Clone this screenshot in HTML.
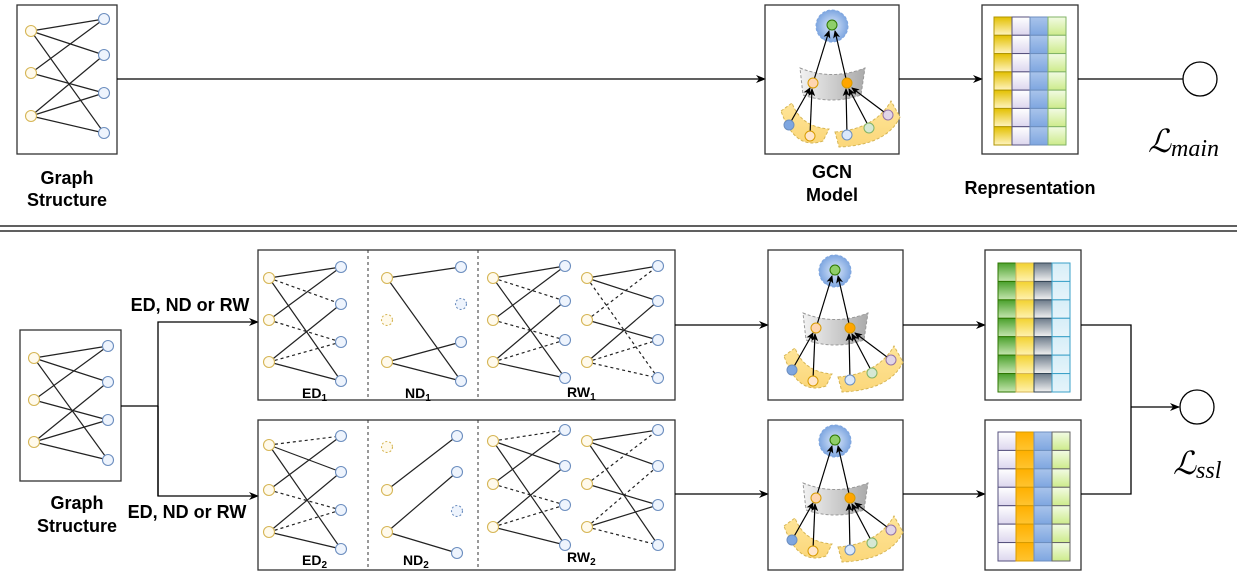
<!DOCTYPE html>
<html><head><meta charset="utf-8"><style>
html,body{margin:0;padding:0;background:#fff;}
svg{display:block;}
text{font-family:"Liberation Sans",sans-serif;}
</style></head><body>
<svg id="s" width="1242" height="588" viewBox="0 0 1242 588" xmlns="http://www.w3.org/2000/svg">
<defs>
<marker id="ar" markerWidth="10" markerHeight="8" refX="9" refY="4" orient="auto" markerUnits="userSpaceOnUse"><path d="M0,0 L10,4 L0,8 L3,4 Z" fill="#000"/></marker>
<marker id="as" markerWidth="8" markerHeight="7" refX="7" refY="3.5" orient="auto" markerUnits="userSpaceOnUse"><path d="M0,0 L8,3.5 L0,7 L2,3.5 Z" fill="#000"/></marker>
<radialGradient id="halo"><stop offset="0" stop-color="#dbe8fb"/><stop offset="1" stop-color="#7ea6e0"/></radialGradient>
<linearGradient id="band" x1="0" x2="1"><stop offset="0" stop-color="#f2f2f2"/><stop offset="1" stop-color="#aaa"/></linearGradient>
<linearGradient id="pet" x1="0" y1="0" x2="0" y2="1"><stop offset="0" stop-color="#ffe599"/><stop offset="1" stop-color="#fbd77a"/></linearGradient>
<linearGradient id="gY" x1="0" y1="0" x2="0" y2="1"><stop offset="0" stop-color="#e3c000"/><stop offset="1" stop-color="#fff4c0"/></linearGradient>
<linearGradient id="gL" x1="0" y1="0" x2="0" y2="1"><stop offset="0" stop-color="#fff"/><stop offset="1" stop-color="#dcd6ee"/></linearGradient>
<linearGradient id="gB" x1="0" y1="0" x2="0" y2="1"><stop offset="0" stop-color="#a9c4eb"/><stop offset="1" stop-color="#7ea6e0"/></linearGradient>
<linearGradient id="gG" x1="0" y1="0" x2="0" y2="1"><stop offset="0" stop-color="#f2fbe4"/><stop offset="1" stop-color="#cdeb8b"/></linearGradient>
<linearGradient id="gDG" x1="0" y1="0" x2="0" y2="1"><stop offset="0" stop-color="#4aa02c"/><stop offset="1" stop-color="#c6e6b0"/></linearGradient>
<linearGradient id="gY2" x1="0" y1="0" x2="0" y2="1"><stop offset="0" stop-color="#f2d230"/><stop offset="1" stop-color="#fff2b0"/></linearGradient>
<linearGradient id="gGr" x1="0" y1="0" x2="0" y2="1"><stop offset="0" stop-color="#6d7b8a"/><stop offset="1" stop-color="#f2f2f2"/></linearGradient>
<linearGradient id="gC" x1="0" y1="0" x2="0" y2="1"><stop offset="0" stop-color="#d6eef8"/><stop offset="1" stop-color="#e6f4fa"/></linearGradient>
<linearGradient id="gO" x1="0" y1="0" x2="0" y2="1"><stop offset="0" stop-color="#ffb000"/><stop offset="1" stop-color="#ffc430"/></linearGradient>
<g id="gcn">
<circle cx="67" cy="21" r="16" fill="url(#halo)" stroke="#7ea6e0" stroke-dasharray="3,2"/>
<path d="M35,63 Q67,76 100,63 L96,90 Q67,100 38,90 Z" fill="url(#band)" stroke="#999" stroke-dasharray="3,2"/>
<path d="M16,106 L27,98 Q36,122 64,124 L58,136 Q30,146 16,106 Z" fill="url(#pet)" stroke="#d6b656" stroke-dasharray="3,2"/>
<path d="M70,127 Q110,124 126,96 L135,112 Q122,140 74,142 Z" fill="url(#pet)" stroke="#d6b656" stroke-dasharray="3,2"/>
<g stroke="#000" stroke-width="1.2" fill="none">
<line x1="48" y1="78" x2="64" y2="26" marker-end="url(#as)"/>
<line x1="82" y1="78" x2="70" y2="26" marker-end="url(#as)"/>
<line x1="24" y1="120" x2="45" y2="83" marker-end="url(#as)"/>
<line x1="45" y1="130" x2="47" y2="84" marker-end="url(#as)"/>
<line x1="82" y1="130" x2="81" y2="84" marker-end="url(#as)"/>
<line x1="104" y1="122" x2="84" y2="84" marker-end="url(#as)"/>
<line x1="123" y1="110" x2="87" y2="83" marker-end="url(#as)"/>
</g>
<circle cx="67" cy="20" r="5" fill="#8fcf6a" stroke="#2d7600"/>
<circle cx="48" cy="78" r="5" fill="#ffd5b0" stroke="#d79b00"/>
<circle cx="82" cy="78" r="5" fill="#ffa500" stroke="#d79b00"/>
<circle cx="24" cy="120" r="5" fill="#7ea6e0" stroke="#6c8ebf"/>
<circle cx="45" cy="131" r="5" fill="#ffe6cc" stroke="#d79b00"/>
<circle cx="82" cy="130" r="5" fill="#dae8fc" stroke="#6c8ebf"/>
<circle cx="104" cy="123" r="5" fill="#d5e8d4" stroke="#82b366"/>
<circle cx="123" cy="110" r="5" fill="#e1d5e7" stroke="#9673a6"/>
</g>
</defs>
<g id="root" stroke-linecap="butt"></g>
<rect x="17" y="5" width="100" height="149" fill="none" stroke="#333" stroke-width="1.3"/>
<text x="67" y="184" font-size="18" font-weight="bold" text-anchor="middle">Graph</text>
<text x="67" y="206" font-size="18" font-weight="bold" text-anchor="middle">Structure</text>
<line x1="117" y1="79" x2="765" y2="79" stroke="#000" stroke-width="1.3" marker-end="url(#ar)"/>
<rect x="765" y="5" width="134" height="149" fill="none" stroke="#333" stroke-width="1.3"/>
<use href="#gcn" x="765" y="5"/>
<text x="832" y="178" font-size="18" font-weight="bold" text-anchor="middle">GCN</text>
<text x="832" y="201" font-size="18" font-weight="bold" text-anchor="middle">Model</text>
<line x1="899" y1="79" x2="982" y2="79" stroke="#000" stroke-width="1.3" marker-end="url(#ar)"/>
<rect x="982" y="5" width="96" height="149" fill="none" stroke="#333" stroke-width="1.3"/>
<text x="1030" y="194" font-size="18" font-weight="bold" text-anchor="middle">Representation</text>
<line x1="1078" y1="79" x2="1183" y2="79" stroke="#000" stroke-width="1.3"/>
<circle cx="1200" cy="79" r="17" fill="#fff" stroke="#000" stroke-width="1.3"/>
<text x="1148" y="152" font-size="32" font-family="Liberation Serif" font-style="italic">ℒ<tspan font-size="24" font-family="Liberation Serif" dy="4">main</tspan></text>
<line x1="0" y1="226" x2="1237" y2="226" stroke="#000" stroke-width="1.2"/>
<line x1="0" y1="231" x2="1237" y2="231" stroke="#000" stroke-width="1.2"/>
<rect x="20" y="330" width="101" height="151" fill="none" stroke="#333" stroke-width="1.3"/>
<text x="77" y="509" font-size="18" font-weight="bold" text-anchor="middle">Graph</text>
<text x="77" y="532" font-size="18" font-weight="bold" text-anchor="middle">Structure</text>
<polyline points="121,406 158,406" fill="none" stroke="#000" stroke-width="1.3"/>
<polyline points="158,496 158,322 258,322" fill="none" stroke="#000" stroke-width="1.3" marker-end="url(#ar)"/>
<polyline points="158,406 158,496 258,496" fill="none" stroke="#000" stroke-width="1.3" marker-end="url(#ar)"/>
<text x="190" y="311" font-size="18" font-weight="bold" text-anchor="middle">ED, ND or RW</text>
<text x="187" y="518" font-size="18" font-weight="bold" text-anchor="middle">ED, ND or RW</text>
<rect x="258" y="250" width="417" height="150" fill="none" stroke="#333" stroke-width="1.3"/>
<rect x="258" y="420" width="417" height="150" fill="none" stroke="#333" stroke-width="1.3"/>
<g stroke="#333" stroke-dasharray="3,3"><line x1="368" y1="250" x2="368" y2="400"/><line x1="478" y1="250" x2="478" y2="400"/><line x1="368" y1="420" x2="368" y2="570"/><line x1="478" y1="420" x2="478" y2="570"/></g>
<text x="302" y="398" font-size="14" font-weight="bold">ED<tspan font-size="10" dy="3">1</tspan></text>
<text x="405" y="398" font-size="14" font-weight="bold">ND<tspan font-size="10" dy="3">1</tspan></text>
<text x="567" y="397" font-size="14" font-weight="bold">RW<tspan font-size="10" dy="3">1</tspan></text>
<text x="302" y="565" font-size="14" font-weight="bold">ED<tspan font-size="10" dy="3">2</tspan></text>
<text x="403" y="565" font-size="14" font-weight="bold">ND<tspan font-size="10" dy="3">2</tspan></text>
<text x="567" y="562" font-size="14" font-weight="bold">RW<tspan font-size="10" dy="3">2</tspan></text>
<line x1="675" y1="325" x2="768" y2="325" stroke="#000" stroke-width="1.3" marker-end="url(#ar)"/>
<line x1="675" y1="494" x2="768" y2="494" stroke="#000" stroke-width="1.3" marker-end="url(#ar)"/>
<rect x="768" y="250" width="135" height="150" fill="none" stroke="#333" stroke-width="1.3"/>
<rect x="768" y="420" width="135" height="150" fill="none" stroke="#333" stroke-width="1.3"/>
<use href="#gcn" x="768" y="250"/>
<use href="#gcn" x="768" y="420"/>
<line x1="903" y1="325" x2="985" y2="325" stroke="#000" stroke-width="1.3" marker-end="url(#ar)"/>
<line x1="903" y1="494" x2="985" y2="494" stroke="#000" stroke-width="1.3" marker-end="url(#ar)"/>
<rect x="985" y="250" width="96" height="150" fill="none" stroke="#333" stroke-width="1.3"/>
<rect x="985" y="420" width="96" height="150" fill="none" stroke="#333" stroke-width="1.3"/>
<polyline points="1081,325 1131,325 1131,494 1081,494" fill="none" stroke="#000" stroke-width="1.3"/>
<line x1="1131" y1="407" x2="1179" y2="407" stroke="#000" stroke-width="1.3" marker-end="url(#ar)"/>
<circle cx="1197" cy="407" r="17" fill="#fff" stroke="#000" stroke-width="1.3"/>
<text x="1173" y="474" font-size="32" font-family="Liberation Serif" font-style="italic">ℒ<tspan font-size="24" font-family="Liberation Serif" dy="4">ssl</tspan></text>
<script>
var NS="http://www.w3.org/2000/svg",root=document.getElementById('root');
function el(t,a){var e=document.createElementNS(NS,t);for(var k in a)e.setAttribute(k,a[k]);root.appendChild(e);return e;}
function graph(yx,ys,bx,bs,edges,dy,db){
 edges.forEach(function(e){var a=el('line',{x1:yx,y1:ys[e[0]],x2:bx,y2:bs[e[1]],stroke:'#222','stroke-width':1.2});if(e[2])a.setAttribute('stroke-dasharray','3,3');});
 ys.forEach(function(y,i){var c=el('circle',{cx:yx,cy:y,r:5.5,fill:'#fffaec',stroke:'#d6b656','stroke-width':1.1});if(dy&&dy.indexOf(i)>=0)c.setAttribute('stroke-dasharray','2,2');});
 bs.forEach(function(y,i){var c=el('circle',{cx:bx,cy:y,r:5.5,fill:'#eef4fd',stroke:'#6c8ebf','stroke-width':1.1});if(db&&db.indexOf(i)>=0)c.setAttribute('stroke-dasharray','2,2');});
}
var full=[[0,0],[0,1],[0,3],[1,0],[1,2],[2,1],[2,2],[2,3]];
graph(31,[31,73,116],104,[19,55,93,133],full);
graph(34,[358,400,442],108,[346,382,420,460],full);
var Y1=[278,320,362],B1=[267,304,342,381];
graph(269,Y1,341,B1,[[0,0],[0,1,1],[0,3],[1,0],[1,2,1],[2,1],[2,2,1],[2,3]]);
graph(387,Y1,461,B1,[[0,0],[0,3],[2,2],[2,3]],[1],[1]);
graph(493,Y1,565,[266,301,340,378],[[0,0],[0,1,1],[0,3],[1,0],[1,2,1],[2,1],[2,2,1],[2,3]]);
graph(587,Y1,658,[266,301,340,378],[[0,0],[0,1],[0,3,1],[1,0,1],[1,2],[2,1],[2,2,1],[2,3,1]]);
var Y2=[445,490,532],B2=[436,472,510,549];
graph(269,Y2,341,B2,[[0,0,1],[0,1],[0,3],[1,0],[1,2,1],[2,1],[2,2,1],[2,3]]);
graph(387,[447,490,532],457,[436,472,511,553],[[1,0],[2,1],[2,3]],[0],[2]);
graph(493,[441,484,527],565,[430,466,505,545],[[0,0,1],[0,1],[0,3],[1,0],[1,2,1],[2,1],[2,2,1],[2,3]]);
graph(587,[441,484,527],658,[430,466,505,545],[[0,0],[0,1],[0,3],[1,0,1],[1,2],[2,1,1],[2,2],[2,3,1]]);
function mat(x,y,w,h,cols,strokes){var cw=w/4,rh=h/7;for(var c=0;c<4;c++)for(var r=0;r<7;r++)el('rect',{x:x+c*cw,y:y+r*rh,width:cw,height:rh,fill:'url(#'+cols[c]+')',stroke:strokes[c],'stroke-width':1});}
mat(994,17,72,128,['gY','gL','gB','gG'],['#b09500','#56517e','#6c8ebf','#82b366']);
mat(998,263,72,129,['gDG','gY2','gGr','gC'],['#2d7600','#d6b656','#314354','#3aa0c8']);
mat(998,432,72,129,['gL','gO','gB','gG'],['#56517e','#d79b00','#6c8ebf','#666']);
</script>
</svg>
</body></html>
